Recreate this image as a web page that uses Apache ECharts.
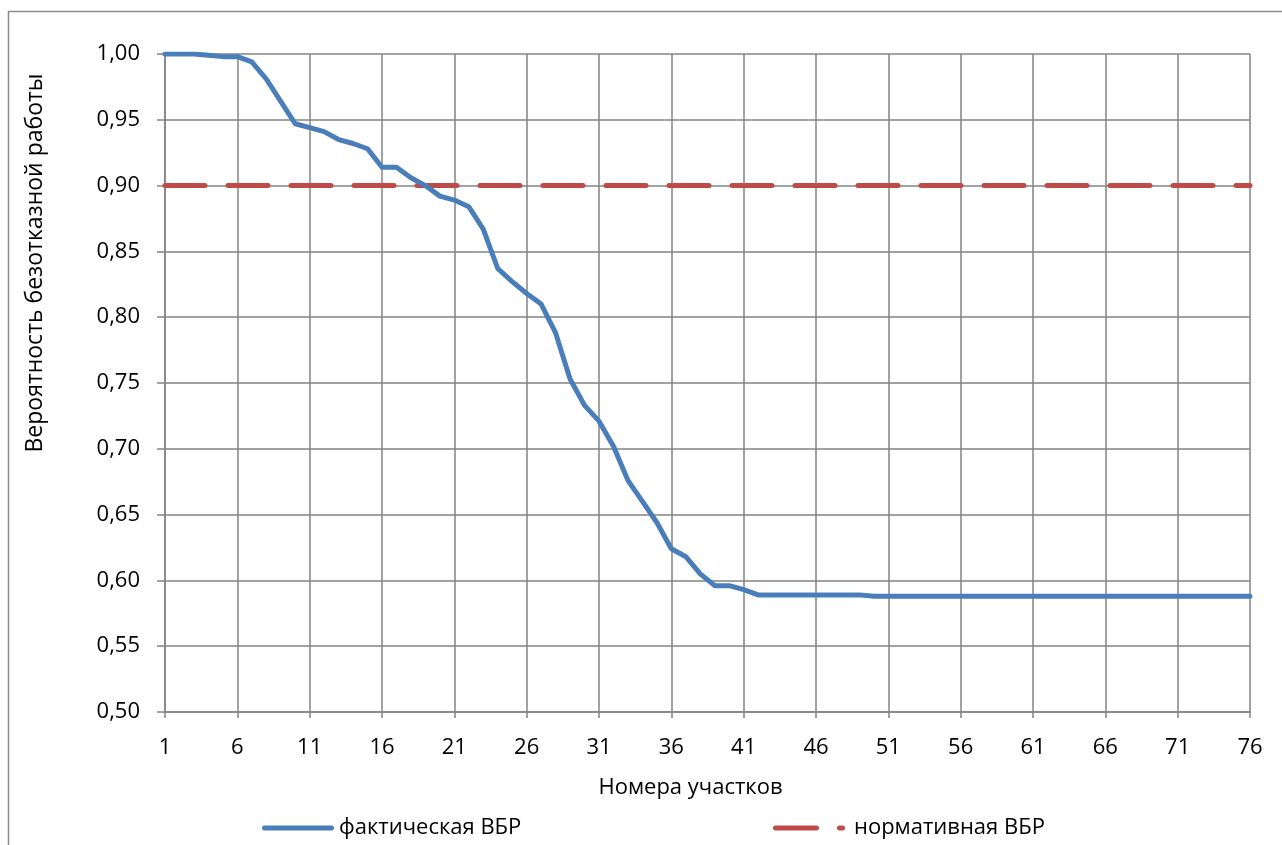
<!DOCTYPE html>
<html>
<head>
<meta charset="utf-8">
<script src="https://cdn.jsdelivr.net/npm/echarts@6/dist/echarts.min.js"></script>
<style>
  html, body { margin: 0; padding: 0; background: #fff; }
  #chart { width: 1282px; height: 845px; }
</style>
</head>
<body>
<div id="chart"></div>
<script>
// Номера участков 1..76
const sections = [];
for (let i = 1; i <= 76; i++) sections.push(String(i));

// фактическая вероятность безотказной работы по участкам
const actualProb = [
  1.000, 1.000, 1.000, 0.999, 0.998, 0.998, 0.994, 0.981, 0.964, 0.947,
  0.944, 0.941, 0.935, 0.932, 0.928, 0.914, 0.914, 0.906, 0.900, 0.892,
  0.889, 0.884, 0.867, 0.837, 0.827, 0.818, 0.810, 0.788, 0.753, 0.733,
  0.721, 0.702, 0.676, 0.660, 0.644, 0.624, 0.618, 0.605, 0.596, 0.596,
  0.593, 0.589, 0.589, 0.589, 0.589, 0.589, 0.589, 0.589, 0.589, 0.588,
  0.588, 0.588, 0.588, 0.588, 0.588, 0.588, 0.588, 0.588, 0.588, 0.588,
  0.588, 0.588, 0.588, 0.588, 0.588, 0.588, 0.588, 0.588, 0.588, 0.588,
  0.588, 0.588, 0.588, 0.588, 0.588, 0.588
];

// нормативная ВБР
const normProb = sections.map(() => 0.90);

const FONT = 'Open Sans';
const FONT_SIZE = 22;
const GRID_COLOR = '#838383';
const BLUE = '#4a7ebb';
const RED = '#be4b48';

// legend glyphs: solid rounded bar; long dash followed by a dot
const ICON_SOLID = 'path://M2.5,0H69.5A2.5,2.5,0,0,1,69.5,5H2.5A2.5,2.5,0,0,1,2.5,0Z';
const ICON_DASH_DOT = 'path://M2.5,0H43.5A2.5,2.5,0,0,1,43.5,5H2.5A2.5,2.5,0,0,1,2.5,0Z' +
  'M66.5,0A2.5,2.5,0,0,1,66.5,5A2.5,2.5,0,0,1,66.5,0Z M66.5,0H69.5A2.5,2.5,0,0,1,69.5,5H66.5Z';

const chart = echarts.init(document.getElementById('chart'), null, { renderer: 'canvas' });

chart.setOption({
  backgroundColor: '#ffffff',
  animation: false,
  textStyle: { fontFamily: FONT, color: '#000' },
  grid: { left: 165, right: 32, top: 54, bottom: 133, containLabel: false },
  graphic: [
    {
      type: 'rect',
      silent: true,
      shape: { x: 8.5, y: 11.5, width: 1400, height: 1000 },
      style: { fill: 'none', stroke: '#8a8a8a', lineWidth: 1.5 }
    },
    {
      type: 'text',
      x: 35, y: 263,
      rotation: Math.PI / 2,
      style: {
        text: 'Вероятность безотказной работы',
        fontFamily: FONT, fontSize: 23, fill: '#000',
        align: 'center', verticalAlign: 'middle'
      }
    }
  ],
  legend: [
    {
      data: [{ name: 'фактическая ВБР', icon: ICON_SOLID }],
      left: 257, top: 812,
      itemWidth: 72, itemHeight: 5, itemGap: 0,
      textStyle: { fontFamily: FONT, fontSize: FONT_SIZE, color: '#000' }
    },
    {
      data: [{ name: 'нормативная ВБР', icon: ICON_DASH_DOT }],
      left: 768, top: 812,
      itemWidth: 72, itemHeight: 5, itemGap: 0,
      textStyle: { fontFamily: FONT, fontSize: FONT_SIZE, color: '#000', padding: [0, 0, 0, 4] }
    }
  ],
  xAxis: {
    type: 'category',
    data: sections,
    boundaryGap: false,
    name: 'Номера участков',
    nameLocation: 'middle',
    nameGap: 65,
    nameTextStyle: { fontFamily: FONT, fontSize: FONT_SIZE, color: '#000', padding: [0, 34, 0, 0] },
    axisLine: { lineStyle: { color: GRID_COLOR, width: 1.5 } },
    axisTick: { show: true, interval: 4, length: 6, inside: false, lineStyle: { color: GRID_COLOR, width: 1.5 } },
    axisLabel: { interval: 4, margin: 25, fontFamily: FONT, fontSize: FONT_SIZE, color: '#000' },
    splitLine: { show: true, interval: 4, lineStyle: { color: GRID_COLOR, width: 1.5 } }
  },
  yAxis: {
    type: 'value',
    min: 0.5,
    max: 1.0,
    interval: 0.05,
    axisLine: { show: true, lineStyle: { color: GRID_COLOR, width: 1.5 } },
    axisTick: { show: true, length: 8, inside: false, lineStyle: { color: GRID_COLOR, width: 1.5 } },
    axisLabel: {
      margin: 25,
      fontFamily: FONT, fontSize: FONT_SIZE, color: '#000',
      formatter: v => v.toFixed(2).replace('.', ',')
    },
    splitLine: { show: true, lineStyle: { color: GRID_COLOR, width: 1.5 } }
  },
  series: [
    {
      name: 'фактическая ВБР',
      type: 'line',
      data: actualProb,
      showSymbol: false,
      symbol: 'none',
      itemStyle: { color: BLUE },
      lineStyle: { color: BLUE, width: 5, cap: 'round', join: 'round' },
      z: 3
    },
    {
      name: 'нормативная ВБР',
      type: 'line',
      data: normProb,
      showSymbol: false,
      symbol: 'none',
      itemStyle: { color: RED },
      lineStyle: { color: RED, width: 5, type: [40, 23], cap: 'round' },
      z: 2
    }
  ]
});
</script>
</body>
</html>
